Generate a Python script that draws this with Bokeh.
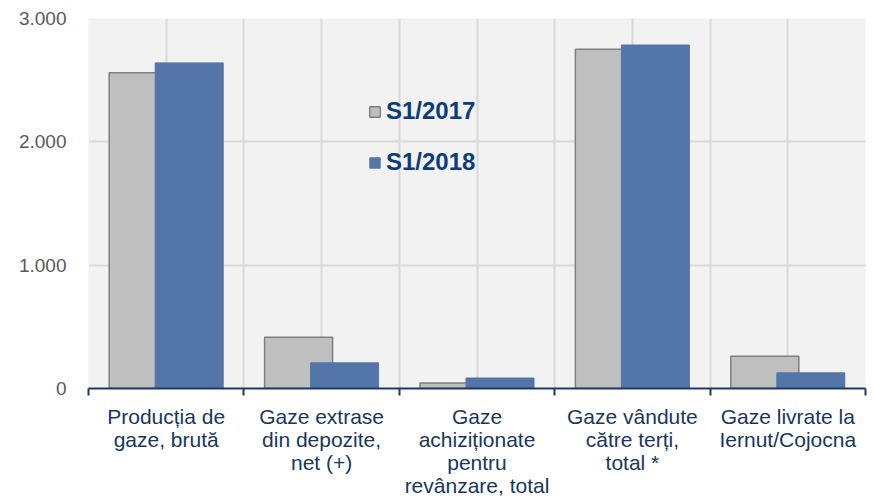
import numpy as np
from bokeh.plotting import figure
from bokeh.models import FixedTicker, Legend, LegendItem, ColumnDataSource, Range1d
from bokeh.embed import file_html
from bokeh.resources import INLINE

categories = [
    "Produc\u021bia de\ngaze, brut\u0103",
    "Gaze extrase\ndin depozite,\nnet (+)",
    "Gaze\nachizi\u021bionate\npentru\nrev\u00e2nzare, total",
    "Gaze v\u00e2ndute\nc\u0103tre ter\u021bi,\ntotal *",
    "Gaze livrate la\nIernut/Cojocna",
]
series_names = ["S1/2017", "S1/2018"]
s2017 = [2560, 415, 45, 2750, 262]
s2018 = [2640, 208, 85, 2785, 127]
y_ticks = [0, 1000, 2000, 3000]
y_tick_labels = ["0", "1.000", "2.000", "3.000"]

n = len(categories)
centers = np.arange(n) + 0.5
bar_w = 0.4376
off = 0.148

src = ColumnDataSource(dict(x17=centers - off, x18=centers + off, s2017=s2017, s2018=s2018))

p = figure(width=874, height=501, x_range=Range1d(0, n), y_range=Range1d(0, 3000),
           output_backend="svg", toolbar_location=None,
           min_border_left=88, min_border_right=9, min_border_top=18, min_border_bottom=113,
           background_fill_color="#F2F2F2", outline_line_color=None)

r17 = p.vbar(x="x17", top="s2017", width=bar_w, bottom=0, source=src,
             fill_color="#BFBFBF", line_color="#7F7F7F", line_width=1.5)
r18 = p.vbar(x="x18", top="s2018", width=bar_w, bottom=0, source=src,
             fill_color="#5475A8", line_color="#5475A8", line_width=1)

# grids
p.xgrid.ticker = FixedTicker(ticks=list(np.arange(0, n + 0.01, 0.5)))
p.ygrid.ticker = FixedTicker(ticks=y_ticks)
for g in (p.xgrid, p.ygrid):
    g.grid_line_color = "#D9D9D9"
    g.grid_line_width = 2

# y axis
ya = p.yaxis[0]
ya.ticker = FixedTicker(ticks=y_ticks)
ya.major_label_overrides = {t: l for t, l in zip(y_ticks, y_tick_labels)}
ya.axis_line_color = None
ya.major_tick_line_color = None
ya.minor_tick_line_color = None
ya.major_label_standoff = 16
ya.major_label_text_font = "Liberation Sans"
ya.major_label_text_font_size = "19px"
ya.major_label_text_color = "#595959"

# x axis
xa = p.xaxis[0]
xa.ticker = FixedTicker(ticks=list(centers), minor_ticks=list(range(0, n + 1)))
xa.major_label_overrides = {float(c): lab for c, lab in zip(centers, categories)}
xa.axis_line_color = "#1F3864"
xa.axis_line_width = 2
xa.major_tick_line_color = None
xa.major_tick_out = 0
xa.major_tick_in = 0
xa.minor_tick_line_color = "#1F3864"
xa.minor_tick_line_width = 2
xa.minor_tick_out = 7
xa.minor_tick_in = 0
xa.major_label_standoff = 9
xa.major_label_text_font = "Liberation Sans"
xa.major_label_text_font_size = "21px"
xa.major_label_text_color = "#17375E"
xa.major_label_text_line_height = 1.0

legend = Legend(items=[LegendItem(label=series_names[0], renderers=[r17]),
                       LegendItem(label=series_names[1], renderers=[r18])],
                location=(280, 212), padding=0, margin=0, spacing=23,
                glyph_width=13, glyph_height=13, label_height=20, label_standoff=5,
                label_text_font="Liberation Sans", label_text_font_style="bold",
                label_text_font_size="24px", label_text_color="#0D3C7C",
                background_fill_alpha=0, border_line_alpha=0)
p.add_layout(legend)

open("out.html", "w").write(file_html(p, INLINE))
